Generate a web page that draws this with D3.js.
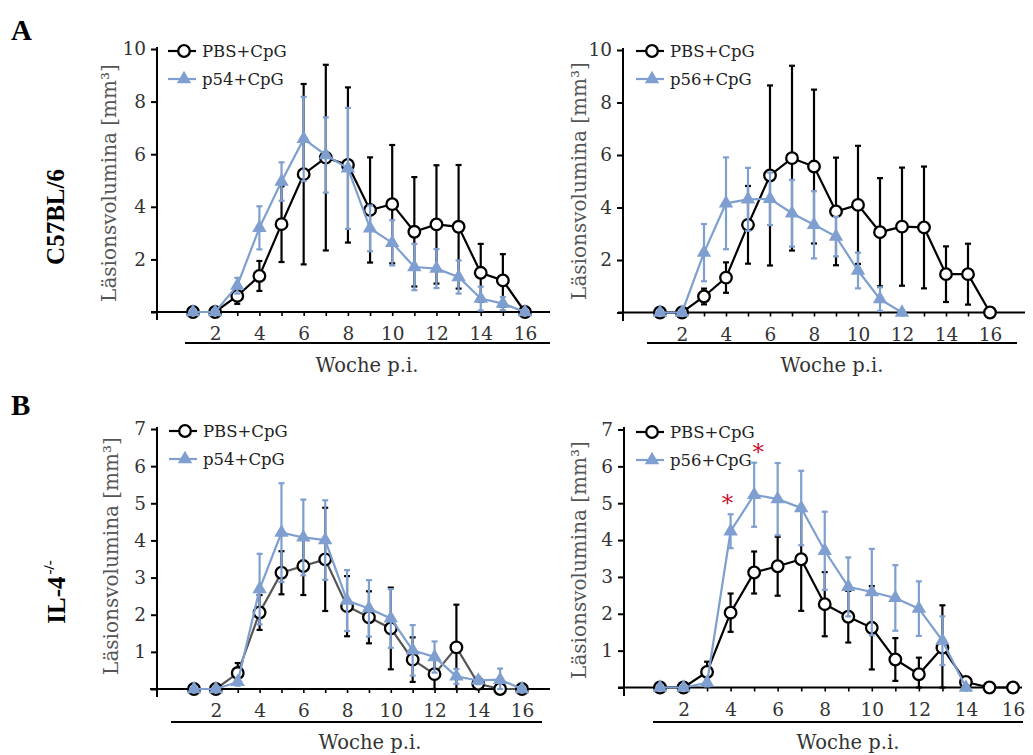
<!DOCTYPE html>
<html>
<head>
<meta charset="utf-8">
<script src="https://cdn.jsdelivr.net/npm/d3@7"></script>
<style>
  body { margin: 0; background: #fff; }
  svg { display: block; }
</style>
</head>
<body>
<div id="chart"></div>
<script>
// Läsionsvolumina over time, 4 panels (A: C57BL/6, B: IL-4 -/-)

// ---- data ----
const weeks = [1, 2, 3, 4, 5, 6, 7, 8, 9, 10, 11, 12, 13, 14, 15, 16];
const xTickLabels = [2, 4, 6, 8, 10, 12, 14, 16];
const yTicksA = [2, 4, 6, 8, 10];
const yTicksB = [1, 2, 3, 4, 5, 6, 7];

// A left: PBS+CpG vs p54+CpG
const aLeftPbsMean = [0, 0, 0.61, 1.37, 3.34, 5.24, 5.87, 5.59, 3.88, 4.10, 3.05, 3.33, 3.24, 1.49, 1.20, 0];
const aLeftPbsSd   = [0, 0, 0.30, 0.57, 1.44, 3.43, 3.53, 2.95, 2.00, 2.25, 2.08, 2.25, 2.35, 1.10, 1.00, 0];
const aLeftP54Mean = [0, 0, 1.00, 3.20, 4.96, 6.58, 5.97, 5.46, 3.18, 2.63, 1.71, 1.65, 1.33, 0.51, 0.32, 0];
const aLeftP54Sd   = [0, 0, 0.30, 0.82, 0.73, 1.60, 1.43, 2.30, 0.87, 0.86, 0.88, 0.74, 0.63, 0.45, 0.25, 0];

// A right: PBS+CpG vs p56+CpG
const aRightPbsMean = [0, 0, 0.61, 1.33, 3.34, 5.22, 5.88, 5.56, 3.85, 4.10, 3.06, 3.27, 3.24, 1.46, 1.46, 0];
const aRightPbsSd   = [0, 0, 0.30, 0.58, 1.48, 3.43, 3.52, 2.93, 2.05, 2.25, 2.06, 2.25, 2.32, 1.06, 1.16, 0];
const aRightP56Mean = [0, 0, 2.28, 4.16, 4.31, 4.33, 3.78, 3.34, 2.89, 1.60, 0.51, 0];
const aRightP56Sd   = [0, 0, 1.09, 1.75, 1.20, 1.00, 1.27, 1.28, 0.75, 0.68, 0.45, 0];

// B left: PBS+CpG vs p54+CpG
const bLeftPbsMean = [0, 0, 0.43, 2.06, 3.13, 3.31, 3.49, 2.23, 1.93, 1.63, 0.79, 0.40, 1.12, 0.14, 0, 0];
const bLeftPbsSd   = [0, 0, 0.27, 0.47, 0.58, 0.78, 1.39, 0.81, 0.70, 1.10, 0.60, 0.40, 1.15, 0.10, 0, 0];
const bLeftP54Mean = [0, 0, 0.19, 2.69, 4.21, 4.08, 4.01, 2.38, 2.17, 1.90, 1.04, 0.86, 0.34, 0.23, 0.25, 0];
const bLeftP54Sd   = [0, 0, 0.10, 0.95, 1.33, 1.02, 1.07, 0.82, 0.76, 0.79, 0.68, 0.42, 0.20, 0.10, 0.30, 0];

// B right: PBS+CpG vs p56+CpG
const bRightPbsMean = [0, 0, 0.42, 2.03, 3.12, 3.29, 3.48, 2.26, 1.92, 1.62, 0.76, 0.36, 1.08, 0.15, 0, 0];
const bRightPbsSd   = [0, 0, 0.28, 0.52, 0.57, 0.80, 1.40, 0.87, 0.70, 1.13, 0.58, 0.45, 1.15, 0.10, 0, 0];
const bRightP56Mean = [0, 0, 0.13, 4.24, 5.23, 5.11, 4.87, 3.71, 2.73, 2.59, 2.43, 2.14, 1.27, 0];
const bRightP56Sd   = [0, 0, 0.10, 0.46, 0.87, 0.98, 1.01, 1.06, 0.80, 1.17, 0.89, 0.74, 0.66, 0];
const bRightSigWeeks = [4, 5];

// ---- style ----
const serif = '"Palatino Linotype", "Book Antiqua", Palatino, "DejaVu Serif", serif';
const boldSerif = '"Times New Roman", "Liberation Serif", serif';
const blue = '#7e9fcf';

const svg = d3.select('#chart').append('svg')
    .attr('width', 1033)
    .attr('height', 755);

// panel layouts (pixel positions only)
const panels = [
    {
        yMax: 10, yTicks: yTicksA,
        yAxisX: 157, y0: 312, yTop: 49, yAxisTop: 47, yAxisBottom: 320,
        x1: 193, x16: 525, axisX0: 151, axisX1: 550,
        baseY: 343, baseX0: 185, baseX1: 550,
        xLabelX: 367, xLabelY: 372, yLabelX: 109, yLabelY: 183,
        legendX: 168, legendY: [51, 79],
        series: [
            { name: 'PBS+CpG', mean: aLeftPbsMean, sd: aLeftPbsSd, color: '#000', lineColor: '#000', marker: 'circle' },
            { name: 'p54+CpG', mean: aLeftP54Mean, sd: aLeftP54Sd, color: blue, lineColor: blue, marker: 'triangle' }
        ]
    },
    {
        yMax: 10, yTicks: yTicksA,
        yAxisX: 623, y0: 312.5, yTop: 50, yAxisTop: 48, yAxisBottom: 321,
        x1: 660, x16: 990, axisX0: 618, axisX1: 1025,
        baseY: 343, baseX0: 647, baseX1: 1017,
        xLabelX: 832, xLabelY: 372, yLabelX: 579, yLabelY: 181,
        legendX: 636, legendY: [51, 79],
        series: [
            { name: 'PBS+CpG', mean: aRightPbsMean, sd: aRightPbsSd, color: '#000', lineColor: '#000', marker: 'circle' },
            { name: 'p56+CpG', mean: aRightP56Mean, sd: aRightP56Sd, color: blue, lineColor: blue, marker: 'triangle' }
        ]
    },
    {
        yMax: 7, yTicks: yTicksB,
        yAxisX: 157, y0: 689, yTop: 429, yAxisTop: 427, yAxisBottom: 697,
        x1: 194, x16: 522, axisX0: 150, axisX1: 550,
        baseY: 722, baseX0: 171, baseX1: 542,
        xLabelX: 370, xLabelY: 749, yLabelX: 111, yLabelY: 556,
        legendX: 169, legendY: [431, 459],
        series: [
            { name: 'PBS+CpG', mean: bLeftPbsMean, sd: bLeftPbsSd, color: '#000', lineColor: '#555', marker: 'circle' },
            { name: 'p54+CpG', mean: bLeftP54Mean, sd: bLeftP54Sd, color: blue, lineColor: blue, marker: 'triangle' }
        ]
    },
    {
        yMax: 7, yTicks: yTicksB,
        yAxisX: 624, y0: 687.5, yTop: 429.5, yAxisTop: 427, yAxisBottom: 696,
        x1: 660, x16: 1013, axisX0: 618, axisX1: 1022,
        baseY: 722, baseX0: 653, baseX1: 1023,
        xLabelX: 848, xLabelY: 749, yLabelX: 579, yLabelY: 560,
        legendX: 636, legendY: [432, 460],
        sigWeeks: bRightSigWeeks, sigDx: [-3, 4],
        series: [
            { name: 'PBS+CpG', mean: bRightPbsMean, sd: bRightPbsSd, color: '#000', lineColor: '#000', marker: 'circle' },
            { name: 'p56+CpG', mean: bRightP56Mean, sd: bRightP56Sd, color: blue, lineColor: blue, marker: 'triangle' }
        ]
    }
];

function drawMarker(sel, type, color) {
    if (type === 'circle') {
        sel.append('circle')
            .attr('r', 5.8)
            .attr('fill', '#fff')
            .attr('stroke', color)
            .attr('stroke-width', 2.3);
    } else {
        sel.append('path')
            .attr('d', d3.symbol().type(d3.symbolTriangle).size(90)())
            .attr('fill', color);
    }
}

function drawPanel(p) {
    const g = svg.append('g').attr('font-family', serif);

    const x = d3.scaleLinear().domain([1, 16]).range([p.x1, p.x16]);
    const y = d3.scaleLinear().domain([0, p.yMax]).range([p.y0, p.yTop]);

    // y axis with ticks
    const ya = g.append('g')
        .attr('transform', `translate(${p.yAxisX},0)`)
        .call(d3.axisLeft(y)
            .tickValues([0].concat(p.yTicks))
            .tickFormat(d => d === 0 ? '' : d)
            .tickSize(6)
            .tickPadding(5)
            .tickSizeOuter(0));
    ya.attr('font-family', serif).attr('font-size', 18.5);
    ya.select('.domain').remove();
    ya.selectAll('line').attr('stroke', '#000').attr('stroke-width', 2);
    ya.selectAll('text').attr('fill', '#333');

    g.append('line')
        .attr('x1', p.yAxisX).attr('x2', p.yAxisX)
        .attr('y1', p.yAxisTop).attr('y2', p.yAxisBottom)
        .attr('stroke', '#000').attr('stroke-width', 2);

    // x axis: line, small week ticks, labels
    g.append('line')
        .attr('x1', p.axisX0).attr('x2', p.axisX1)
        .attr('y1', y(0)).attr('y2', y(0))
        .attr('stroke', '#000').attr('stroke-width', 2);

    const xt = g.append('g')
        .attr('transform', `translate(0,${y(0)})`)
        .call(d3.axisBottom(x).tickValues(weeks).tickSize(4).tickFormat(''));
    xt.select('.domain').remove();
    xt.selectAll('line').attr('stroke', '#000').attr('stroke-width', 1.6);

    const xl = g.append('g')
        .attr('transform', `translate(0,${y(0)})`)
        .call(d3.axisBottom(x).tickValues(xTickLabels).tickSize(0).tickPadding(15));
    xl.attr('font-family', serif).attr('font-size', 18.5);
    xl.select('.domain').remove();
    xl.selectAll('text').attr('fill', '#333');

    // second line under the week labels
    g.append('line')
        .attr('x1', p.baseX0).attr('x2', p.baseX1)
        .attr('y1', p.baseY).attr('y2', p.baseY)
        .attr('stroke', '#000').attr('stroke-width', 2);

    g.append('text')
        .attr('x', p.xLabelX)
        .attr('y', p.xLabelY)
        .attr('text-anchor', 'middle')
        .attr('font-size', 19.5)
        .attr('fill', '#333')
        .text('Woche p.i.');

    g.append('text')
        .attr('transform', `translate(${p.yLabelX},${p.yLabelY}) rotate(-90)`)
        .attr('text-anchor', 'middle')
        .attr('dy', '0.35em')
        .attr('font-size', 20)
        .attr('fill', '#555')
        .text('Läsionsvolumina [mm³]');

    // series
    p.series.forEach(s => {
        const pts = s.mean.map((m, i) => ({ w: weeks[i], m: m, sd: s.sd[i] }));
        const sg = g.append('g');

        // error bars
        const bars = sg.selectAll('.err')
            .data(pts.filter(d => d.sd > 0))
            .enter().append('g')
            .attr('class', 'err')
            .attr('stroke', s.color)
            .attr('stroke-width', 2.2);
        bars.append('line')
            .attr('x1', d => x(d.w)).attr('x2', d => x(d.w))
            .attr('y1', d => y(d.m + d.sd))
            .attr('y2', d => y(Math.max(0, d.m - d.sd)));
        bars.append('line')
            .attr('x1', d => x(d.w) - 3).attr('x2', d => x(d.w) + 3)
            .attr('y1', d => y(d.m + d.sd)).attr('y2', d => y(d.m + d.sd));
        bars.append('line')
            .attr('x1', d => x(d.w) - 3).attr('x2', d => x(d.w) + 3)
            .attr('y1', d => y(Math.max(0, d.m - d.sd))).attr('y2', d => y(Math.max(0, d.m - d.sd)));

        // line
        sg.append('path')
            .datum(pts)
            .attr('fill', 'none')
            .attr('stroke', s.lineColor)
            .attr('stroke-width', 2.2)
            .attr('d', d3.line().x(d => x(d.w)).y(d => y(d.m)));

        // markers
        const mk = sg.selectAll('.mk')
            .data(pts)
            .enter().append('g')
            .attr('class', 'mk')
            .attr('transform', d => `translate(${x(d.w)},${y(d.m)})`);
        drawMarker(mk, s.marker, s.color);
    });

    // legend
    p.series.forEach((s, i) => {
        const ly = p.legendY[i];
        const lg = g.append('g');
        lg.append('line')
            .attr('x1', p.legendX).attr('x2', p.legendX + 28)
            .attr('y1', ly).attr('y2', ly)
            .attr('stroke', s.color).attr('stroke-width', 2.2);
        const m = lg.append('g').attr('transform', `translate(${p.legendX + 16},${ly})`);
        drawMarker(m, s.marker, s.color);
        lg.append('text')
            .attr('x', p.legendX + 34)
            .attr('y', ly)
            .attr('dy', '0.35em')
            .attr('font-size', 16.5)
            .attr('fill', '#222')
            .text(s.name);
    });

    // significance asterisks above the second series
    if (p.sigWeeks) {
        const s = p.series[1];
        g.selectAll('.sig')
            .data(p.sigWeeks)
            .enter().append('text')
            .attr('class', 'sig')
            .attr('x', (w, i) => x(w) + p.sigDx[i])
            .attr('y', w => y(s.mean[w - 1] + s.sd[w - 1]) - 3)
            .attr('text-anchor', 'middle')
            .attr('font-size', 23)
            .attr('fill', '#c8102e')
            .text('*');
    }
}

panels.forEach(drawPanel);

// panel letters and strain labels
svg.append('text')
    .attr('x', 11).attr('y', 40)
    .attr('font-family', boldSerif).attr('font-weight', 'bold').attr('font-size', 29)
    .text('A');
svg.append('text')
    .attr('x', 11).attr('y', 415)
    .attr('font-family', boldSerif).attr('font-weight', 'bold').attr('font-size', 29)
    .text('B');

svg.append('text')
    .attr('transform', 'translate(55,217) rotate(-90)')
    .attr('text-anchor', 'middle')
    .attr('dy', '0.35em')
    .attr('font-family', boldSerif).attr('font-weight', 'bold').attr('font-size', 25)
    .text('C57BL/6');

const il4 = svg.append('text')
    .attr('transform', 'translate(56,592) rotate(-90)')
    .attr('text-anchor', 'middle')
    .attr('dy', '0.35em')
    .attr('font-family', boldSerif).attr('font-weight', 'bold').attr('font-size', 25);
il4.append('tspan').text('IL-4');
il4.append('tspan')
    .attr('font-size', 15)
    .attr('dy', '-0.7em')
    .attr('dx', '2')
    .text('-/-');
</script>
</body>
</html>
